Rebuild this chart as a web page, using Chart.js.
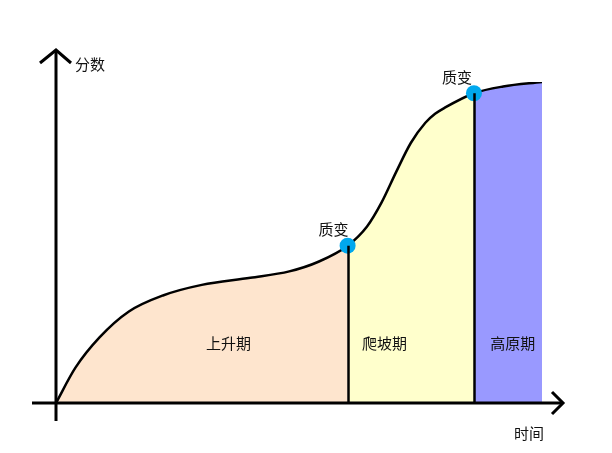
<!DOCTYPE html>
<html>
<head>
<meta charset="utf-8">
<script src="https://cdn.jsdelivr.net/npm/chart.js@4"></script>
<style>
  html, body { margin: 0; padding: 0; background: #fff; }
  #wrap { position: relative; width: 612px; height: 453px; }
</style>
</head>
<body>
<div id="wrap"><canvas id="chart"></canvas></div>
<script>
// curve (time 0..100, score 0..100)
const timeVals  = [0, 4, 9, 15, 22, 30, 40, 48, 54, 60, 64, 67, 70, 73, 76, 78, 80, 86, 92, 100];
const scoreVals = [0, 11, 20.5, 28.5, 33.5, 36.8, 39, 41, 44, 49, 55, 62.5, 72, 81, 87.3, 90.1, 92, 96.5, 98.6, 100];

// qualitative change points
const changeX = [60, 86];
const changeY = [49, 96.5];
const changeLabel = '质变';

// phases
const phaseNames = ['上升期', '爬坡期', '高原期'];
const phaseStart = [0, 60, 86];
const phaseColors = ['#FEE5CE', '#FFFFCC', '#9999FF'];
const phaseLabelX = [35.5, 67.6, 94];
const phaseLabelY = 18.5;

const yAxisTitle = '分数';
const xAxisTitle = '时间';

const FONT = '15px "Noto Sans CJK SC", "Noto Sans", sans-serif';

function phaseIndex(x) {
    let idx = 0;
    for (let i = 0; i < phaseStart.length; i++) {
        if (x >= phaseStart[i]) idx = i;
    }
    return idx;
}

const curveData = timeVals.map((t, i) => ({x: t, y: scoreVals[i]}));
const changeData = changeX.map((t, i) => ({x: t, y: changeY[i]}));

const decorations = {
    id: 'decorations',
    afterDatasetsDraw(chart) {
        const ctx = chart.ctx;
        const xs = chart.scales.x;
        const ys = chart.scales.y;
        const x0 = xs.getPixelForValue(0);
        const y0 = ys.getPixelForValue(0);

        ctx.save();
        ctx.strokeStyle = '#000';
        ctx.lineCap = 'butt';

        // boundary lines from the change points down to the axis
        ctx.lineWidth = 2.5;
        changeX.forEach((t, i) => {
            const px = Math.round(xs.getPixelForValue(t)) + 0.5;
            ctx.beginPath();
            ctx.moveTo(px, ys.getPixelForValue(changeY[i]));
            ctx.lineTo(px, y0);
            ctx.stroke();
        });

        // axes with arrows
        ctx.lineWidth = 3;
        ctx.lineJoin = 'miter';
        const yTop = 50;
        const xRight = 563;
        ctx.beginPath();
        ctx.moveTo(x0, 421);
        ctx.lineTo(x0, yTop);
        ctx.moveTo(32, y0);
        ctx.lineTo(xRight, y0);
        ctx.stroke();

        ctx.beginPath();
        ctx.moveTo(x0 - 16, yTop + 13);
        ctx.lineTo(x0, yTop);
        ctx.lineTo(x0 + 15, yTop + 13);
        ctx.moveTo(xRight - 11, y0 - 11);
        ctx.lineTo(xRight, y0);
        ctx.lineTo(xRight - 11, y0 + 11);
        ctx.stroke();

        // texts
        ctx.fillStyle = '#111';
        ctx.font = FONT;
        ctx.textBaseline = 'middle';
        ctx.textAlign = 'left';
        ctx.fillText(yAxisTitle, 75, 64);
        ctx.fillText(xAxisTitle, 514, 433);

        ctx.textAlign = 'right';
        changeX.forEach((t, i) => {
            const px = xs.getPixelForValue(t);
            const py = ys.getPixelForValue(changeY[i]);
            ctx.fillText(changeLabel, px + 1 - i * 3, py - 16);
        });

        ctx.textAlign = 'center';
        phaseNames.forEach((name, i) => {
            ctx.fillText(name, xs.getPixelForValue(phaseLabelX[i]), ys.getPixelForValue(phaseLabelY));
        });
        ctx.restore();
    }
};

const ctx = document.getElementById('chart').getContext('2d');
new Chart(ctx, {
    type: 'line',
    data: {
        datasets: [
            {
                type: 'scatter',
                label: changeLabel,
                data: changeData,
                pointRadius: 8,
                pointHoverRadius: 8,
                pointBackgroundColor: '#00A8EE',
                pointBorderWidth: 0,
                showLine: false,
                order: 0
            },
            {
                label: 'curve',
                data: curveData,
                borderColor: '#000',
                borderWidth: 2.5,
                backgroundColor: phaseColors[0],
                fill: 'origin',
                cubicInterpolationMode: 'monotone',
                pointRadius: 0,
                segment: {
                    backgroundColor: c => phaseColors[phaseIndex(c.p0.parsed.x)]
                },
                order: 1
            }
        ]
    },
    options: {
        responsive: true,
        maintainAspectRatio: false,
        animation: false,
        layout: {padding: {left: 56, right: 70, top: 82, bottom: 50}},
        scales: {
            x: {type: 'linear', min: 0, max: 100, display: false},
            y: {type: 'linear', min: 0, max: 100, display: false}
        },
        plugins: {
            legend: {display: false},
            tooltip: {enabled: false}
        }
    },
    plugins: [decorations]
});
</script>
</body>
</html>
